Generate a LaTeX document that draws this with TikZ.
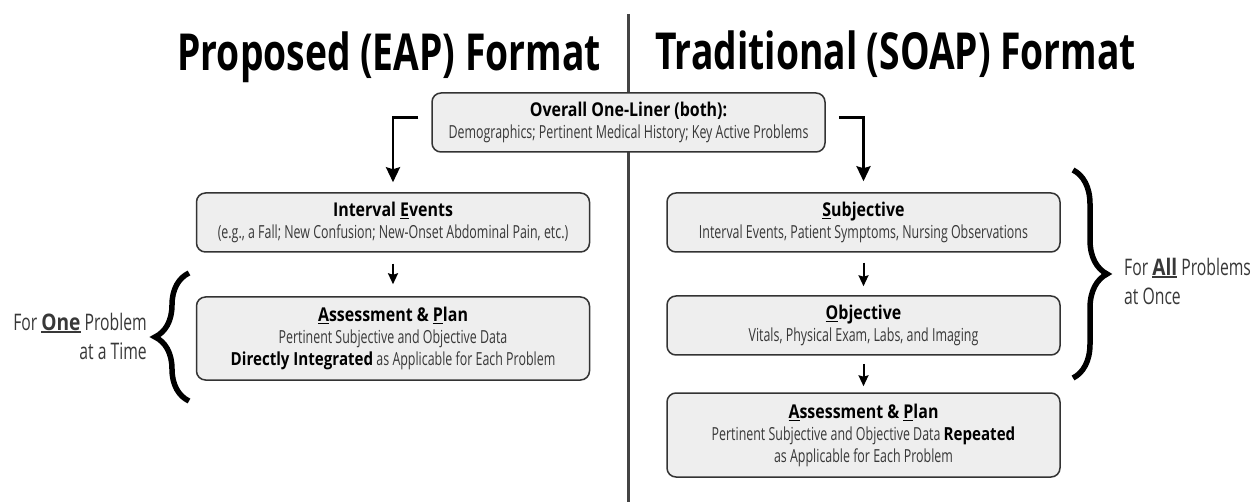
\documentclass[tikz,border=0pt]{standalone}
\usepackage{fontspec}
\setmainfont{Open Sans}[FakeStretch=0.69, BoldFeatures={FakeStretch=0.84}]
\newfontfamily\headfont{Open Sans}[FakeStretch=0.73]
\usetikzlibrary{arrows.meta,decorations.pathreplacing}

\definecolor{boxfill}{HTML}{EEEEEE}
\definecolor{boxline}{HTML}{333333}
\definecolor{bodytext}{HTML}{383838}
\definecolor{divider}{HTML}{444444}

% thick underline used for the key letters and words
\newcommand{\markletter}[2][1.3pt]{\leavevmode\setbox0\hbox{#2}\rlap{\rule[-2.8pt]{\wd0}{#1}}\box0}
\newcommand{\hd}[1]{{\fontsize{19}{22}\selectfont\bfseries\color{black}#1}}

\tikzset{
  card/.style={draw=boxline, line width=1.5pt, fill=boxfill, rounded corners=9pt,
    align=center, inner sep=0pt, minimum width=393pt,
    font=\fontsize{18}{22}\selectfont, text=bodytext},
  flow/.style={-{Stealth[length=15pt,width=14pt,inset=2pt]}, line width=2.5pt, black},
  hop/.style={-{Stealth[length=11pt,width=10pt,inset=1.5pt]}, line width=2pt, black},
  sidebrace/.style={decorate, decoration={brace, amplitude=34pt}, line width=5.5pt},
  heading/.style={font=\headfont\fontsize{51}{60}\selectfont\bfseries, inner sep=0pt},
  sidenote/.style={font=\fontsize{22.8}{29}\selectfont, text=bodytext, inner sep=0pt},
  divline/.style={draw=divider, line width=3pt}
}

\begin{document}
\begin{tikzpicture}[x=1pt,y=-1pt]
\fill[white] (0,0) rectangle (1255,502);
\useasboundingbox (0,0) rectangle (1255,502);

% column divider
\coordinate (dtop) at (628,14);
\coordinate (dbot) at (628,502);
\draw[divline] (dtop) -- (dbot);

% headings
\node[heading, anchor=base east] (tl) at (601,71) {Proposed (EAP) Format};
\node[heading, anchor=base west] (tr) at (655,70) {Traditional (SOAP) Format};

% shared one-liner
\node[card, minimum height=59pt] (top) at (628.5,122.5)
  {\hd{Overall One-Liner (both):}\\Demographics; Pertinent Medical History; Key Active Problems};

% proposed column
\node[card, minimum height=59pt] (ie) at (393,222.5)
  {\hd{Interval \markletter{E}vents}\\(e.g., a Fall; New Confusion; New-Onset Abdominal Pain, etc.)};
\node[card, minimum height=83pt] (apl) at (393,338.5)
  {\hd{\markletter{A}ssessment \& \markletter{P}lan}\\Pertinent Subjective and Objective Data\\{\bfseries\color{black}Directly Integrated} as Applicable for Each Problem};

% traditional column
\node[card, minimum height=59pt] (subj) at (863.5,222.5)
  {\hd{\markletter{S}ubjective}\\Interval Events, Patient Symptoms, Nursing Observations};
\node[card, minimum height=59pt] (obj) at (863.5,325.5)
  {\hd{\markletter{O}bjective}\\Vitals, Physical Exam, Labs, and Imaging};
\node[card, minimum height=84pt] (apr) at (863.5,435)
  {\hd{\markletter{A}ssessment \& \markletter{P}lan}\\Pertinent Subjective and Objective Data {\bfseries\color{black}Repeated}\\as Applicable for Each Problem};

% connectors
\draw[flow, shorten >=10pt] ([shift={(-13pt,5pt)}]top.west) -| (ie.north);
\draw[flow, shorten >=11pt] ([shift={(13pt,5pt)}]top.east) -| (subj.north);
\draw[hop, shorten <=11pt, shorten >=12pt] (ie) -- (apl);
\draw[hop, shorten <=10pt, shorten >=9pt] (subj) -- (obj);
\draw[hop, shorten <=8pt, shorten >=6pt] (obj) -- (apr);

% braces and side notes
\coordinate (lb1) at (189,401);
\coordinate (lb2) at (189,273);
\draw[sidebrace] (lb1) -- (lb2);
\coordinate (rb1) at (1073,170);
\coordinate (rb2) at (1073,378);
\draw[sidebrace] (rb1) -- (rb2);

\node[sidenote, anchor=east, align=right] (ln) at (147,336)
  {For {\bfseries\markletter[1.6pt]{One}} Problem\\at a Time};
\node[sidenote, anchor=west, align=left] (rn) at (1124,281)
  {For {\bfseries\markletter[1.6pt]{All}} Problems\\at Once};
\end{tikzpicture}
\end{document}
